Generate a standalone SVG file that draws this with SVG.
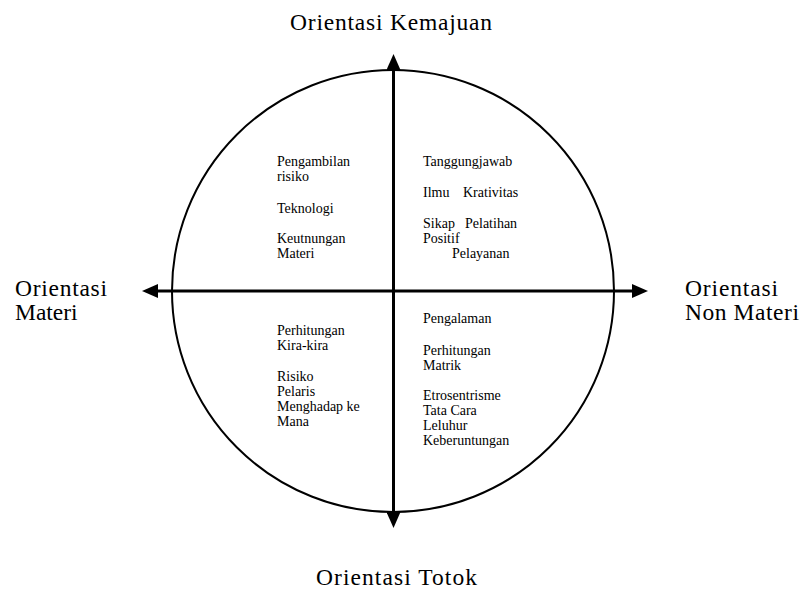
<svg xmlns="http://www.w3.org/2000/svg" width="800" height="589" viewBox="0 0 800 589">
<style>
.big{font-family:"Liberation Serif","Times New Roman",serif;font-size:23.5px;fill:#000}
.sm{font-family:"Liberation Serif","Times New Roman",serif;font-size:14px;fill:#000}
.axis{stroke:#000;stroke-width:3;fill:none}
.ring{stroke:#000;stroke-width:2;fill:none}
</style>
<defs>
<marker id="ah" viewBox="0 0 16 14" refX="0" refY="7" markerWidth="16" markerHeight="14" markerUnits="userSpaceOnUse" orient="auto-start-reverse">
<path d="M0,0 L16,7 L0,14 z" fill="#000"/>
</marker>
</defs>
<rect width="800" height="589" fill="#fff"/>
<g id="circle">
<circle class="ring" cx="393" cy="291" r="221"/>
</g>
<g id="connectors">
<line class="axis" x1="158" y1="291" x2="632" y2="291" marker-start="url(#ah)" marker-end="url(#ah)"/>
<line class="axis" x1="393.5" y1="70" x2="393.5" y2="512" marker-start="url(#ah)" marker-end="url(#ah)"/>
</g>
<g id="label-top"><text class="big" x="290" y="30" textLength="202">Orientasi Kemajuan</text></g>
<g id="label-bottom"><text class="big" x="316" y="585" textLength="161">Orientasi Totok</text></g>
<g id="label-left"><text class="big" x="15" y="296" textLength="92">Orientasi</text><text class="big" x="15" y="320">Materi</text></g>
<g id="label-right"><text class="big" x="685" y="296" textLength="93">Orientasi</text><text class="big" x="685" y="320" textLength="114">Non Materi</text></g>
<g id="q-top-left">
<text class="sm" x="277" y="166">Pengambilan</text>
<text class="sm" x="277" y="181">risiko</text>
<text class="sm" x="277" y="213">Teknologi</text>
<text class="sm" x="277" y="243">Keutnungan</text>
<text class="sm" x="277" y="258">Materi</text>
</g>
<g id="q-top-right">
<text class="sm" x="423" y="166">Tanggungjawab</text>
<text class="sm" x="423" y="197">Ilmu</text>
<text class="sm" x="463" y="197">Krativitas</text>
<text class="sm" x="423" y="228">Sikap</text>
<text class="sm" x="465" y="228">Pelatihan</text>
<text class="sm" x="423" y="243">Positif</text>
<text class="sm" x="452" y="258">Pelayanan</text>
</g>
<g id="q-bottom-left">
<text class="sm" x="277" y="335">Perhitungan</text>
<text class="sm" x="277" y="350">Kira-kira</text>
<text class="sm" x="277" y="381">Risiko</text>
<text class="sm" x="277" y="396">Pelaris</text>
<text class="sm" x="277" y="411">Menghadap ke</text>
<text class="sm" x="277" y="426">Mana</text>
</g>
<g id="q-bottom-right">
<text class="sm" x="423" y="323">Pengalaman</text>
<text class="sm" x="423" y="355">Perhitungan</text>
<text class="sm" x="423" y="370">Matrik</text>
<text class="sm" x="423" y="400">Etrosentrisme</text>
<text class="sm" x="423" y="415">Tata Cara</text>
<text class="sm" x="423" y="430">Leluhur</text>
<text class="sm" x="423" y="445">Keberuntungan</text>
</g>
</svg>
